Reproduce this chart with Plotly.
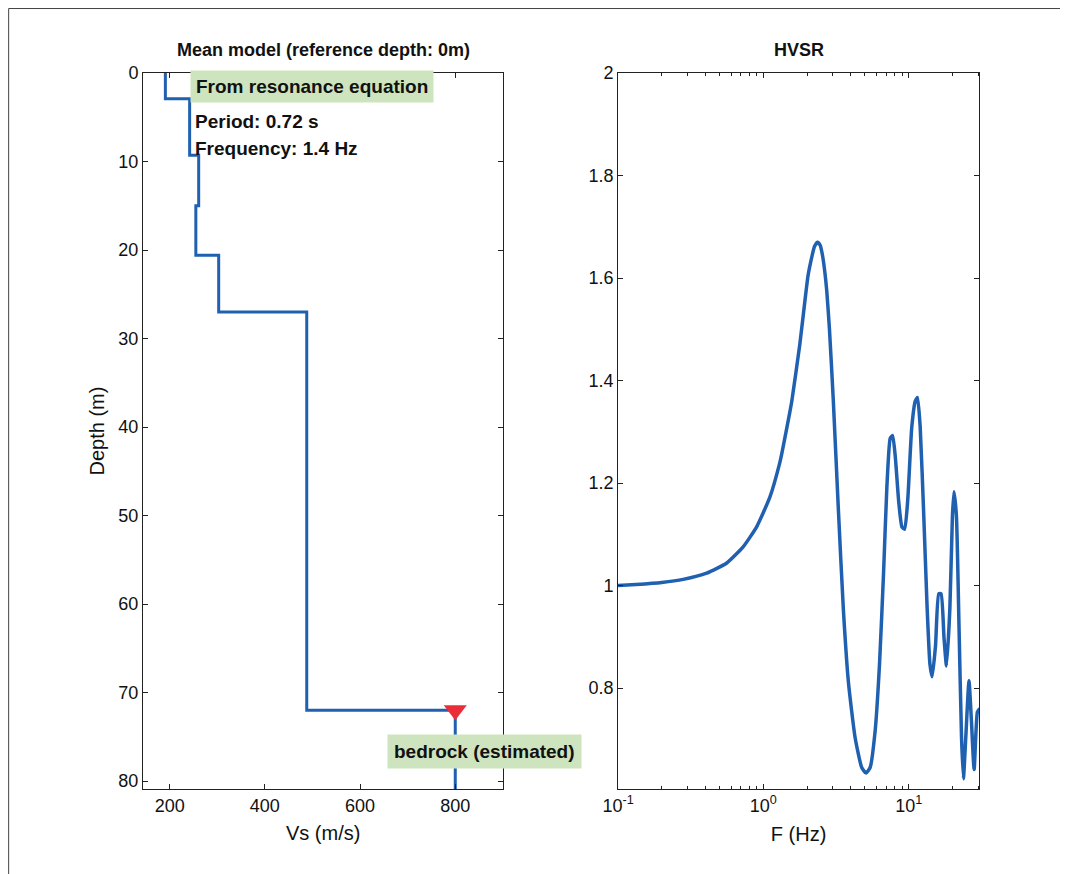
import plotly.graph_objects as go

# ---------------- data ----------------
# Velocity profile (mean model)
layer_vs = [191, 242, 261, 255, 303, 488, 800]          # Vs (m/s) per layer, last = half-space
layer_bottom = [2.9, 9.3, 15.0, 20.6, 27.0, 72.0]       # depth of layer bottoms (m)
profile_max_depth = 81.0
bedrock_vs = 800
bedrock_depth = 72.0

# HVSR curve
hv_freq = [0.100, 0.133, 0.200, 0.281, 0.407, 0.560, 0.728, 0.901, 1.11, 1.29, 1.34,
           1.52, 1.57, 1.78, 1.94, 2.03, 2.15, 2.25, 2.36, 2.46, 2.55, 2.64, 2.73, 2.85, 3.03,
           3.28, 3.55, 3.85, 4.28, 4.75, 5.09, 5.43, 5.88, 6.30, 6.72, 7.08, 7.46,
           7.75, 8.09, 8.53, 8.99, 9.38, 9.84, 10.5, 11.1, 11.5, 12.0, 12.7, 13.4,
           14.0, 14.5, 15.3, 16.1, 16.7, 17.5, 18.2, 19.2, 20.0, 20.5, 21.3, 22.2,
           23.1, 23.8, 24.7, 26.0, 27.0, 28.2, 29.7, 30.8]
hv_amp = [1.000, 1.002, 1.006, 1.012, 1.024, 1.044, 1.076, 1.115, 1.173, 1.237, 1.258,
          1.338, 1.360, 1.470, 1.560, 1.605, 1.640, 1.662, 1.670, 1.664, 1.645, 1.615, 1.575, 1.500, 1.360,
          1.150, 0.955, 0.811, 0.703, 0.645, 0.634, 0.645, 0.717, 0.847, 1.027, 1.193, 1.287,
          1.293, 1.251, 1.165, 1.114, 1.110, 1.165, 1.309, 1.360, 1.367, 1.309, 1.136, 0.955,
          0.847, 0.822, 0.883, 0.984, 0.984, 0.898, 0.843, 0.955, 1.136, 1.183, 1.136, 0.919,
          0.703, 0.623, 0.703, 0.814, 0.738, 0.641, 0.753, 0.760]

left_title = "Mean model (reference depth: 0m)"
right_title = "HVSR"
res_label = "From resonance equation"
period_label = "Period: 0.72 s"
freq_label = "Frequency: 1.4 Hz"
bedrock_label = "bedrock (estimated)"

# ---------------- build step profile ----------------
px, py = [], []
top = 0.0
for i, v in enumerate(layer_vs):
    bottom = layer_bottom[i] if i < len(layer_bottom) else profile_max_depth
    px += [v, v]
    py += [top, bottom]
    top = bottom

LINE = "rgb(32,96,176)"
FONT = "Liberation Sans, Arial, sans-serif"
GREEN = "rgb(206,228,190)"

fig = go.Figure()
fig.add_trace(go.Scatter(x=px, y=py, mode="lines", line=dict(color=LINE, width=3),
                         xaxis="x", yaxis="y", showlegend=False, hoverinfo="skip"))
fig.add_trace(go.Scatter(x=[bedrock_vs], y=[bedrock_depth], mode="markers",
                         marker=dict(symbol="triangle-down", size=20, color="rgb(235,45,55)"),
                         xaxis="x", yaxis="y", showlegend=False, cliponaxis=False))
fig.add_trace(go.Scatter(x=hv_freq, y=hv_amp, mode="lines",
                         line=dict(color=LINE, width=3.5, shape="spline", smoothing=0.5),
                         xaxis="x2", yaxis="y2", showlegend=False))

axis_common = dict(showline=True, linecolor="#222", linewidth=1, mirror="ticks",
                   ticks="inside", ticklen=5, tickcolor="#222", showgrid=False,
                   zeroline=False, automargin=False,
                   tickfont=dict(family=FONT, size=18, color="#111"),
                   title_font=dict(family=FONT, size=20, color="#111"))

# page is drawn 8 px in from the window corner, so domains are shifted by 8 px
fig.update_layout(
    template="none",
    width=1068, height=874,
    margin=dict(l=0, r=0, t=0, b=0, pad=0),
    paper_bgcolor="white", plot_bgcolor="white",
    font=dict(family=FONT, color="#111"),
    xaxis=dict(domain=[0.1264, 0.4638], range=[144, 901], tickvals=[200, 400, 600, 800],
               title=dict(text="Vs (m/s)", standoff=11), anchor="y", **axis_common),
    yaxis=dict(domain=[0.1064, 0.9256], range=[80.9, 0], tickvals=list(range(0, 90, 10)),
               title=dict(text="Depth (m)", standoff=8), anchor="x", **axis_common),
    xaxis2=dict(domain=[0.5712, 0.9092], type="log", range=[-1, 1.484],
                tickvals=[0.1, 1, 10], ticktext=["10<sup>-1</sup>", "10<sup>0</sup>", "10<sup>1</sup>"],
                minor=dict(ticks="inside", ticklen=3, tickcolor="#222", dtick="D1", showgrid=False),
                title=dict(text="F (Hz)", standoff=12), anchor="y2", **axis_common),
    yaxis2=dict(domain=[0.1064, 0.9256], range=[0.603, 2], tickvals=[0.8, 1, 1.2, 1.4, 1.6, 1.8, 2],
                ticktext=["0.8", "1", "1.2", "1.4", "1.6", "1.8", "2"], anchor="x2", **axis_common),
)

title_font = dict(family=FONT, size=18, color="#111")
ann_font = dict(family=FONT, size=19, color="#111")
fig.add_annotation(text="<b>" + left_title + "</b>", xref="paper", yref="paper",
                   x=(0.1264 + 0.4638) / 2, y=0.9256, yshift=11, xanchor="center", yanchor="bottom",
                   showarrow=False, font=title_font)
fig.add_annotation(text="<b>" + right_title + "</b>", xref="paper", yref="paper",
                   x=(0.5712 + 0.9092) / 2, y=0.9256, yshift=11, xanchor="center", yanchor="bottom",
                   showarrow=False, font=title_font)
fig.add_annotation(text="<b>" + res_label + "</b>", xref="x", yref="y", x=242, y=1.5,
                   xanchor="left", yanchor="middle", showarrow=False, font=ann_font,
                   bgcolor=GREEN, borderpad=5)
fig.add_annotation(text="<b>" + period_label + "</b>", xref="x", yref="y", x=248, y=5.5,
                   xanchor="left", yanchor="middle", showarrow=False, font=ann_font)
fig.add_annotation(text="<b>" + freq_label + "</b>", xref="x", yref="y", x=248, y=8.5,
                   xanchor="left", yanchor="middle", showarrow=False, font=ann_font)
fig.add_annotation(text="<b>" + bedrock_label + "</b>", xref="x", yref="y", x=862, y=76.7,
                   xanchor="center", yanchor="middle", showarrow=False, font=ann_font,
                   bgcolor=GREEN, borderpad=6)

# outer frame of the figure window (at the page corner)
fig.add_shape(type="rect", xref="paper", yref="paper", x0=0.0006, y0=-0.01, x1=1.01, y1=0.9994,
              line=dict(color="#444", width=1), fillcolor="rgba(0,0,0,0)", layer="below")

fig.write_html("out.html")
